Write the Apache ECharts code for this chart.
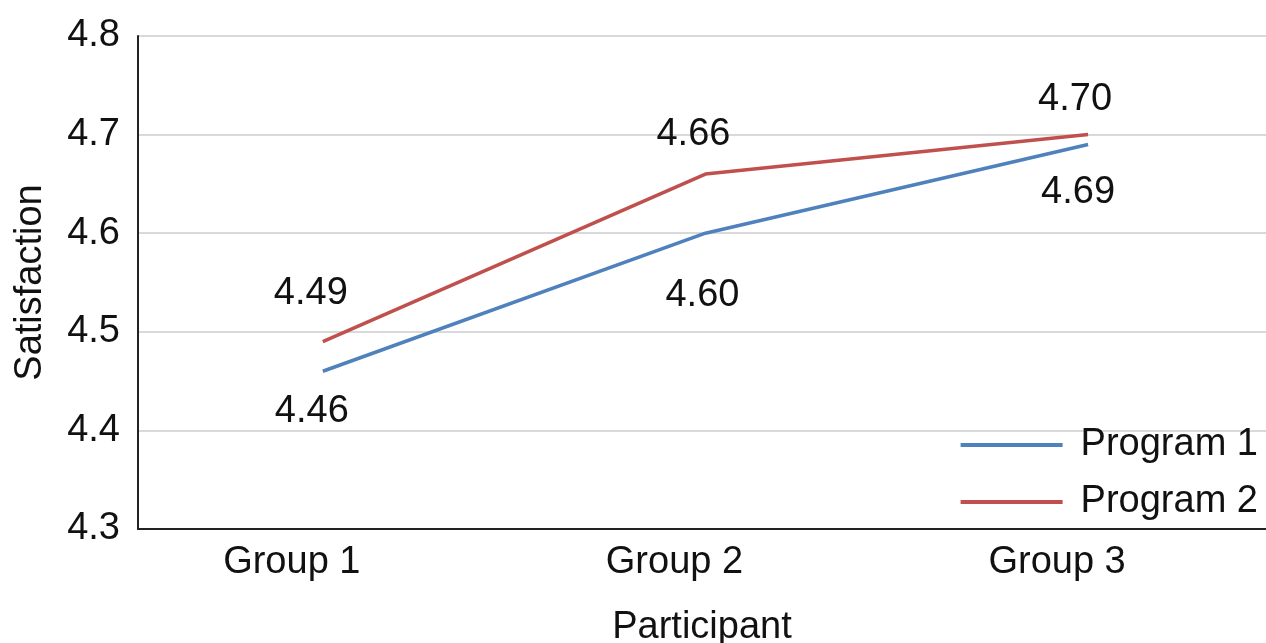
<!DOCTYPE html>
<html>
<head>
<meta charset="utf-8">
<script src="https://cdn.jsdelivr.net/npm/echarts@6/dist/echarts.min.js"></script>
<style>
html,body{margin:0;padding:0;background:#fff;}
#chart{width:1266px;height:643px;}
</style>
</head>
<body>
<div id="chart"></div>
<script>
const categories = ['Group 1', 'Group 2', 'Group 3'];
const program1 = [4.46, 4.60, 4.69];
const program2 = [4.49, 4.66, 4.70];
const seriesNames = ['Program 1', 'Program 2'];
const yTicks = [4.3, 4.4, 4.5, 4.6, 4.7, 4.8];

// label offsets (style only)
const offsets1 = [[-11, 40], [-3, 62], [-10, 48]];
const offsets2 = [[-12, -48], [-12, -40], [-13, -35]];

const FONT = '"Liberation Sans", Arial, sans-serif';
const FS = 38;

function buildData(values, offs) {
  return values.map((v, i) => ({
    value: [i + 1, v],
    label: { offset: offs[i] }
  }));
}

function lineSeries(name, values, offs, color) {
  return {
    name: name,
    type: 'line',
    data: buildData(values, offs),
    symbol: 'circle',
    symbolSize: 0.01,
    showSymbol: true,
    lineStyle: { color: color, width: 3.5 },
    itemStyle: { color: color },
    label: {
      show: true,
      position: 'inside',
      formatter: p => p.value[1].toFixed(2),
      fontSize: FS,
      color: '#111',
      fontFamily: FONT
    }
  };
}

const chart = echarts.init(document.getElementById('chart'));
chart.setOption({
  animation: false,
  textStyle: { fontFamily: FONT },
  grid: { left: 138, right: 0, top: 36, bottom: 114, containLabel: false, outerBoundsMode: 'none' },
  legend: {
    orient: 'vertical',
    right: 8,
    top: 426,
    padding: 0,
    icon: 'rect',
    itemWidth: 102,
    itemHeight: 4,
    itemGap: 19,
    data: seriesNames,
    textStyle: { fontSize: FS, color: '#111', fontFamily: FONT, padding: [0, 0, 0, 13], lineHeight: 38 }
  },
  xAxis: {
    type: 'value',
    min: 0.517,
    max: 3.465,
    name: 'Participant',
    nameLocation: 'middle',
    nameGap: 80,
    nameTextStyle: { fontSize: FS, color: '#111', fontFamily: FONT },
    axisLine: { show: true, lineStyle: { color: '#222', width: 2 } },
    axisTick: { show: false },
    splitLine: { show: false },
    axisLabel: {
      customValues: [1, 2, 3],
      formatter: v => categories[Math.round(v) - 1] || '',
      fontSize: FS,
      color: '#111',
      fontFamily: FONT,
      margin: 15,
      padding: [0, 62, 0, 0]
    }
  },
  yAxis: {
    type: 'value',
    min: yTicks[0],
    max: yTicks[yTicks.length - 1],
    interval: 0.1,
    name: 'Satisfaction',
    nameLocation: 'middle',
    nameGap: 88,
    nameTextStyle: { fontSize: FS, color: '#111', fontFamily: FONT },
    axisLine: { show: true, lineStyle: { color: '#222', width: 2 } },
    axisTick: { show: false },
    splitLine: { show: true, lineStyle: { color: '#d9d9d9', width: 2 } },
    axisLabel: {
      formatter: v => v.toFixed(1),
      fontSize: FS,
      color: '#111',
      fontFamily: FONT,
      margin: 18,
      padding: [0, 0, 7, 0]
    }
  },
  series: [
    lineSeries(seriesNames[0], program1, offsets1, '#4F81BD'),
    lineSeries(seriesNames[1], program2, offsets2, '#C0504D')
  ]
});
</script>
</body>
</html>
